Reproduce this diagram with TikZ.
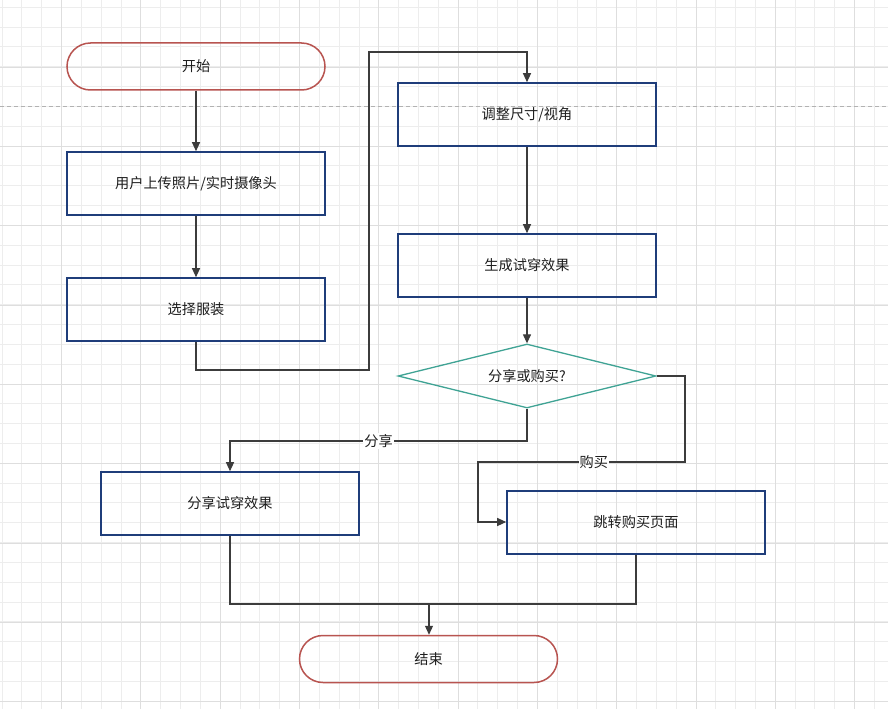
\documentclass[tikz,border=0pt]{standalone}
\usepackage{fontspec}
\setmainfont{Noto Sans CJK SC}
\usepackage{tikz}
\usetikzlibrary{shapes.geometric, arrows.meta, calc}

\definecolor{termred}{HTML}{B85450}
\definecolor{procblue}{HTML}{1F3D7A}
\definecolor{decteal}{HTML}{3FA394}
\definecolor{flowgray}{HTML}{3C3C3C}
\definecolor{txtgray}{HTML}{1E1E1E}

\begin{document}
\begin{tikzpicture}[x=1bp,y=-1bp,
		gridminor/.style={draw=black!7, line width=0.9bp},
		gridmajor/.style={draw=black!13, line width=0.9bp},
		every node/.style={font=\fontsize{14.2bp}{17bp}\selectfont, text=txtgray},
		terminal/.style={draw=termred, line width=1.5bp, rectangle, rounded corners=23.5bp, minimum width=258bp, minimum height=47bp},
		process/.style={draw=procblue, line width=1.6bp, rectangle, minimum width=258bp, minimum height=63bp},
		decision/.style={draw=decteal, line width=1.3bp, diamond, aspect=4, inner sep=0, minimum width=258bp, minimum height=64bp},
		flow/.style={draw=flowgray, line width=1.2bp, -{Triangle[length=9bp,width=8bp]}},
		line/.style={draw=flowgray, line width=1.2bp},
		edgelabel/.style={fill=white, inner sep=1bp}]
		% background and grid
		\fill[white] (0,0) rectangle (888,709);
		\useasboundingbox (0,0) rectangle (888,709);
		\foreach \i in {0,...,44} \draw[gridminor] ({2.1+19.825*\i},0) -- ++(0,709);
		\foreach \i in {0,...,35} \draw[gridminor] (0,{7.3+19.825*\i}) -- ++(888,0);
		\foreach \i in {0,...,10} \draw[gridmajor] ({61.6+79.3*\i},0) -- ++(0,709);
		\foreach \i in {0,...,8} \draw[gridmajor] (0,{67.3+79.3*\i}) -- ++(888,0);
		\draw[black!30, line width=0.9bp, dash pattern=on 4bp off 3bp] (0,106.5) -- (888,106.5);
		
		\node[terminal] (start) at (196,66.5) {开始};
		\node[process] (upload) at (196,183.5) {用户上传照片/实时摄像头};
		\node[process] (select) at (196,309.5) {选择服装};
		\node[process] (adjust) at (527,114.5) {调整尺寸/视角};
		\node[process] (result) at (527,265.5) {生成试穿效果};
		\node[decision] (ask) at (527,376) {分享或购买?};
		\node[process] (share) at (230,503.5) {分享试穿效果};
		\node[process] (buy) at (636,522.5) {跳转购买页面};
		\node[terminal] (end) at (428.5,659) {结束};
		
		\coordinate (c1) at (369,370);
		\coordinate (c2) at (369,52);
		\coordinate (s1) at (527,441);
		\coordinate (b1) at (685,462);
		\coordinate (b2) at (478,522);
		\coordinate (j1) at (429,604);
		
		\draw[flow] (start) -- (upload);
		\draw[flow] (upload) -- (select);
		\draw[flow] (select.south) |- (c1) -- (c2) -| (adjust.north);
		\draw[flow] (adjust) -- (result);
		\draw[flow] (result) -- (ask);
		\draw[flow] (ask.south) -- (s1) -| node[near start, edgelabel] {分享} (share.north);
		\draw[flow] (ask.east) -| (b1) -- node[pos=0.44, edgelabel] {购买} (b1 -| b2) -- (b2) -- (b2 -| buy.west);
		\draw[line] (buy.south) |- (j1);
		\draw[flow] (share.south) |- (j1) -- (j1 |- end.north);
		
		\end{tikzpicture}
\end{document}
